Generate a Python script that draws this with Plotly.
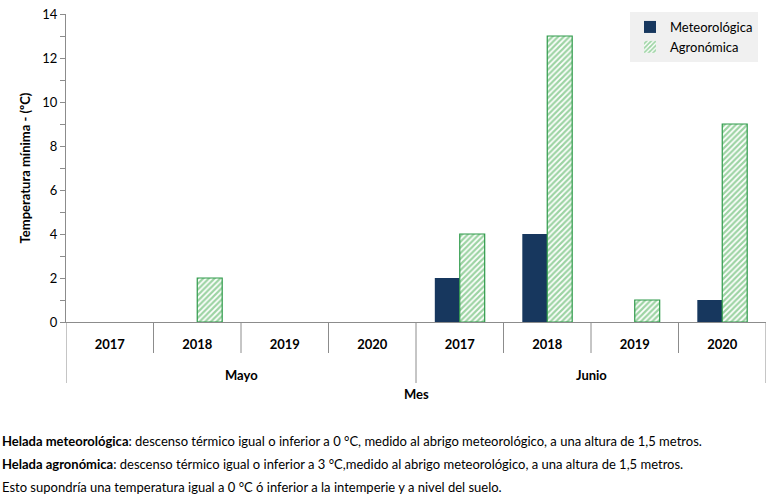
import plotly.graph_objects as go

# ---- data ----
months = ["Mayo", "Junio"]
years = ["2017", "2018", "2019", "2020"]
categories = [f"{m} {y}" for m in months for y in years]
year_labels = [y for m in months for y in years]
meteorologica = [0, 0, 0, 0, 2, 4, 0, 1]
agronomica = [0, 2, 0, 0, 4, 13, 1, 9]
y_ticks = list(range(0, 15))
y_ticktext = [str(v) if v % 2 == 0 else "" for v in y_ticks]

notes = [
    "<b>Helada meteorológica</b>: descenso térmico igual o inferior a 0 °C, medido al abrigo meteorológico, a una altura de 1,5 metros.",
    "<b>Helada agronómica</b>: descenso térmico igual o inferior a 3 °C,medido al abrigo meteorológico, a una altura de 1,5 metros.",
    "Esto supondría una temperatura igual a 0 °C ó inferior a la intemperie y a nivel del suelo.",
]

FONT = "Lato, 'Open Sans', sans-serif"
GRAY = "#8c8c8c"

fig = go.Figure()
fig.add_bar(
    x=categories, y=meteorologica, name="Meteorológica",
    marker=dict(color="#17375E", line=dict(width=0)),
    legendgroup="a",
)
fig.add_bar(
    x=categories, y=agronomica, name="Agronómica",
    marker=dict(
        color="white",
        line=dict(color="#2E9A4A", width=[1.2 if v else 0 for v in agronomica]),
        pattern=dict(shape="/", fgcolor="#3AA847", bgcolor="white", size=4, solidity=0.55),
    ),
    legendgroup="b",
)

W_PLOT = 700
H_PLOT = 308
def py(px):  # pixel row -> paper y
    return (322 - px) / H_PLOT
def pxx(px):  # pixel column -> paper x
    return (px - 66) / W_PLOT

n = len(categories)
shapes = []
for i in range(n + 1):
    bottom = 383 if i % len(years) == 0 else 353
    shapes.append(dict(type="line", xref="x", yref="paper", x0=i - 0.5, x1=i - 0.5,
                       y0=0, y1=py(bottom), line=dict(color=GRAY, width=1)))

annotations = []
for k, m in enumerate(months):
    center = k * len(years) + (len(years) - 1) / 2
    annotations.append(dict(text=f"<b>{m}</b>", xref="x", yref="paper", x=center, y=py(375),
                            showarrow=False, font=dict(size=13, color="black", family=FONT),
                            yanchor="middle"))
annotations.append(dict(text="<b>Mes</b>", xref="x", yref="paper", x=(n - 1) / 2, y=py(394),
                        showarrow=False, font=dict(size=13, color="black", family=FONT),
                        yanchor="middle"))
for j, t in enumerate(notes):
    annotations.append(dict(text=t, xref="paper", yref="paper", x=pxx(0), y=py(441 + 23 * j),
                            xanchor="left", yanchor="middle", showarrow=False, align="left",
                            font=dict(size=13, color="black", family=FONT)))

fig.update_layout(
    width=770, height=499,
    margin=dict(l=66, r=4, t=14, b=177, autoexpand=False),
    paper_bgcolor="white", plot_bgcolor="white",
    font=dict(family=FONT, color="black", size=13),
    barmode="group", bargap=0.43, bargroupgap=0,
    shapes=shapes, annotations=annotations,
    legend=dict(x=pxx(630), xanchor="left", y=py(12), yanchor="top", bgcolor="#f0f0f0",
                font=dict(size=13, family=FONT), tracegroupgap=12, traceorder="normal",
                entrywidth=105, itemwidth=30),
    xaxis=dict(type="category", categoryorder="array", categoryarray=categories,
               tickvals=categories, ticktext=[f"<b>{y}</b>" for y in year_labels],
               ticks="", showline=True, linecolor=GRAY, linewidth=1, showgrid=False,
               tickfont=dict(size=13, family=FONT), ticklabelstandoff=10,
               range=[-0.5, n - 0.5]),
    yaxis=dict(range=[0, 14], tickvals=y_ticks, ticktext=y_ticktext, ticks="outside",
               ticklen=5, tickcolor=GRAY, showline=True, linecolor=GRAY, linewidth=1,
               showgrid=False, zeroline=False, tickfont=dict(size=13, family=FONT),
               title=dict(text="<b>Temperatura mínima - (ºC)</b>", standoff=8,
                          font=dict(size=13, family=FONT))),
)

fig.write_html("out.html", config={"displayModeBar": False},
               post_script="document.body.style.margin='0';document.body.style.padding='0';")
